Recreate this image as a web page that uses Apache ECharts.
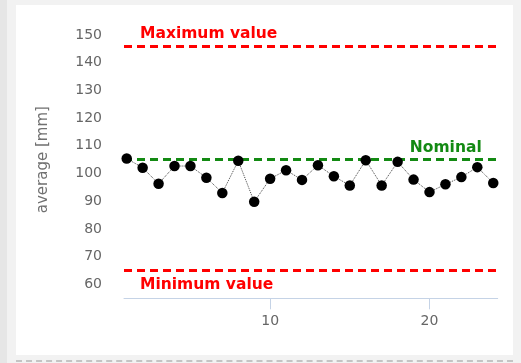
<!DOCTYPE html>
<html>
<head>
<meta charset="utf-8">
<script src="https://cdn.jsdelivr.net/npm/echarts@6/dist/echarts.min.js"></script>
<style>
html,body{margin:0;padding:0;width:521px;height:363px;overflow:hidden;background:#f2f2f2;}
#strip{position:absolute;left:0;top:0;width:7px;height:363px;background:#e6e6e6;}
#card{position:absolute;left:16px;top:5px;width:497px;height:350px;background:#ffffff;}
#dash{position:absolute;left:16px;top:360px;width:497px;height:0;border-top:2px dashed #c4c4c4;}
#chart{position:absolute;left:0;top:0;width:521px;height:363px;}
</style>
</head>
<body>
<div id="strip"></div>
<div id="card"></div>
<div id="dash"></div>
<div id="chart"></div>
<script>
// sample index (x) and measured averages (y)
const sampleIndex = [1,2,3,4,5,6,7,8,9,10,11,12,13,14,15,16,17,18,19,20,21,22,23,24];
const averages = [105.4,102.1,96.3,102.7,102.7,98.5,93.0,104.6,89.8,98.1,101.2,97.7,103.0,99.0,95.7,104.8,95.7,104.2,97.8,93.3,96.1,98.7,102.3,96.6];
const limitValues = [146, 105, 65];
const limitNames = ['Maximum value', 'Nominal', 'Minimum value'];
const yTickLabels = [60,70,80,90,100,110,120,130,140,150];
const xTickLabels = [10,20];
const yAxisTitle = 'average [mm]';

const limitColors = ['#ff0000', '#138a13', '#ff0000'];
const limitLabelPos = ['insideStartTop', 'insideEndTop', 'insideStartBottom'];
const limitLabelGap = [4, 4, 6];

const chart = echarts.init(document.getElementById('chart'), null, {renderer:'canvas'});
const font = 'DejaVu Sans';
chart.setOption({
  animation: false,
  grid: {left: 124, right: 23.3, top: 21, bottom: 64.7},
  xAxis: {
    type: 'value', min: 0.83, max: 24.28,
    axisLine: {show: true, lineStyle: {color: '#c5d3e6', width: 1}},
    axisTick: {show: true, length: 11, customValues: xTickLabels, lineStyle: {color: '#c5d3e6'}},
    axisLabel: {customValues: xTickLabels, margin: 16, color: '#666666', fontFamily: font, fontSize: 14},
    splitLine: {show: false}
  },
  yAxis: {
    type: 'value', min: 55, max: 155,
    name: yAxisTitle, nameLocation: 'middle', nameGap: 73,
    nameTextStyle: {color: '#707070', fontFamily: font, fontSize: 15},
    axisLine: {show: false}, axisTick: {show: false},
    axisLabel: {customValues: yTickLabels, margin: 22, color: '#666666', fontFamily: font, fontSize: 14},
    splitLine: {show: false}
  },
  series: [{
    type: 'line',
    data: sampleIndex.map((x, i) => [x, averages[i]]),
    symbol: 'circle', symbolSize: 10.5,
    itemStyle: {color: '#000000'},
    lineStyle: {color: '#444444', width: 1, type: 'dotted'},
    z: 3,
    markLine: {
      silent: true, symbol: 'none', z: 2,
      data: limitValues.map((v, i) => ({
        yAxis: v,
        lineStyle: {color: limitColors[i], width: 3, type: [8, 5]},
        label: {show: true, formatter: limitNames[i], position: limitLabelPos[i],
                distance: [16, limitLabelGap[i]], color: limitColors[i], fontFamily: font, fontWeight: 'bold', fontSize: 15.5}
      }))
    }
  }]
});
</script>
</body>
</html>
